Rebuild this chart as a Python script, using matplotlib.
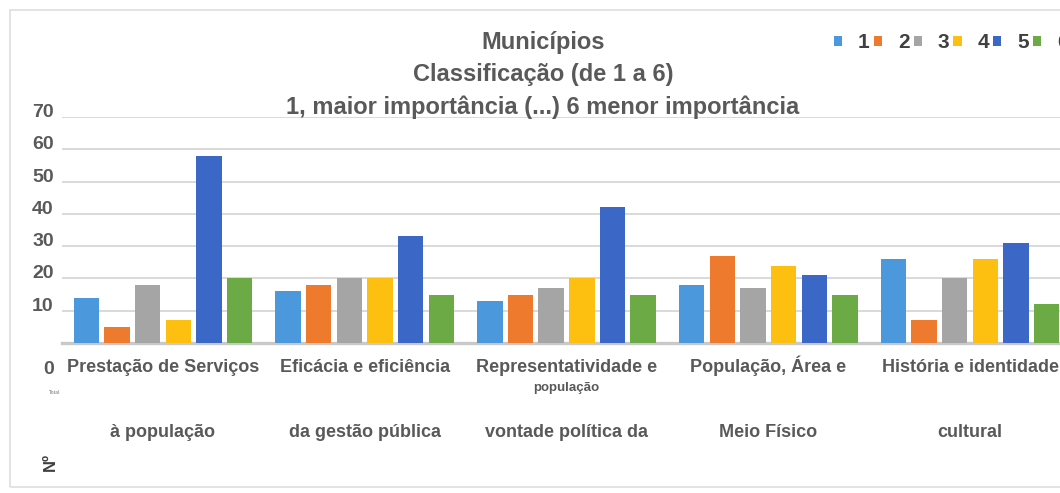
import numpy as np
import matplotlib
matplotlib.use("Agg")
import matplotlib.pyplot as plt
import matplotlib.transforms as mtransforms
from matplotlib.patches import Patch, Rectangle

categorias_l1 = ["Prestação de Serviços", "Eficácia e eficiência", "Representatividade e",
                 "População, Área e", "História e identidade"]
categorias_l2 = ["à população", "da gestão pública", "vontade política da",
                 "Meio Físico", "cultural"]
series = ["1", "2", "3", "4", "5", "6"]

# número de municípios por posição na classificação (1 a 6)
rank1 = [14, 16, 13, 18, 26]
rank2 = [5, 18, 15, 27, 7]
rank3 = [18, 20, 17, 17, 20]
rank4 = [7, 20, 20, 24, 26]
rank5 = [58, 33, 42, 21, 31]
rank6 = [20, 15, 15, 15, 12]
valores = [rank1, rank2, rank3, rank4, rank5, rank6]

cores = ["#4B98DD", "#EE7A2E", "#A5A5A5", "#FDC010", "#3B67C6", "#6BAA45"]
yticks = [0, 10, 20, 30, 40, 50, 60, 70]

texto = "#595959"
plt.rcParams["font.family"] = ["Liberation Sans", "DejaVu Sans"]
plt.rcParams["font.weight"] = "bold"

fig = plt.figure(figsize=(10.6, 4.93), dpi=100)
W, H = 1060, 493

# moldura do gráfico
fig.patches.append(Rectangle((10 / W, 6 / H), 1070 / W, 477 / H, transform=fig.transFigure,
                             fill=False, edgecolor="#DEDEDE", lw=1.2))

ax = fig.add_axes([62 / W, 150 / H, 1009 / W, 226 / H])
x = np.arange(len(categorias_l1))
passo = 0.152
largura = 0.126
for j, (vals, cor) in enumerate(zip(valores, cores)):
    ax.bar(x + (j - 2.5) * passo, vals, width=largura, color=cor, label=series[j], zorder=3)

ax.set_xlim(-0.5, len(categorias_l1) - 0.5)
ax.set_ylim(0, 70)
ax.set_yticks(yticks)
ax.set_yticklabels([str(v) for v in yticks], fontsize=14, color=texto, fontweight="bold")
ax.tick_params(axis="y", length=0, pad=6)
ax.yaxis.grid(True, color="#D9D9D9", lw=1.4, zorder=0)
for s in ["top", "right", "left"]:
    ax.spines[s].set_visible(False)
ax.spines["bottom"].set_color("#C9C9C9")
ax.spines["bottom"].set_linewidth(2.4)

# rótulos do eixo y um pouco acima das linhas; o zero fica na linha das categorias
for lbl, v in zip(ax.get_yticklabels(), yticks):
    dy = -24 if v == 0 else 6.5
    lbl.set_transform(lbl.get_transform() + mtransforms.ScaledTranslation(0, dy / 100, fig.dpi_scale_trans))

ax.set_xticks(x)
ax.set_xticklabels(categorias_l1, fontsize=13, color=texto, fontweight="bold", va="baseline")
ax.tick_params(axis="x", length=0, pad=21)
trans = mtransforms.blended_transform_factory(ax.transData, ax.transAxes)
for xi, t in zip(x, categorias_l2):
    ax.text(xi, -0.414, t, transform=trans, ha="center", va="baseline",
            fontsize=13, color=texto, fontweight="bold")
ax.text(x[2], -0.212, "população", transform=trans, ha="center", va="baseline",
        fontsize=9.5, color=texto, fontweight="bold")

fig.text(50 / W, 1 - 462 / H, "Nº", rotation=90, ha="center", va="center",
         fontsize=12, color="#404040", fontweight="bold")
fig.text(55 / W, 1 - 392 / H, "Total", ha="center", va="center",
         fontsize=3.5, color="#9A9A9A")

titulo = ["Municípios", "Classificação (de 1 a 6)", "1, maior importância (...) 6 menor importância"]
for t, yy in zip(titulo, [43, 74, 107]):
    fig.text(543 / W, 1 - yy / H, t, ha="center", va="center",
             fontsize=17, color=texto, fontweight="bold")

handles = [Patch(facecolor=c) for c in cores]
fig.legend(handles, series, loc="center left", bbox_to_anchor=(834 / W, 1 - 43 / H),
           ncol=6, frameon=False, fontsize=15, handlelength=0.4, handleheight=0.4,
           handletextpad=0.75, columnspacing=0.2, borderpad=0, borderaxespad=0,
           labelcolor="#404040")

fig.savefig("out.png", dpi=100)
